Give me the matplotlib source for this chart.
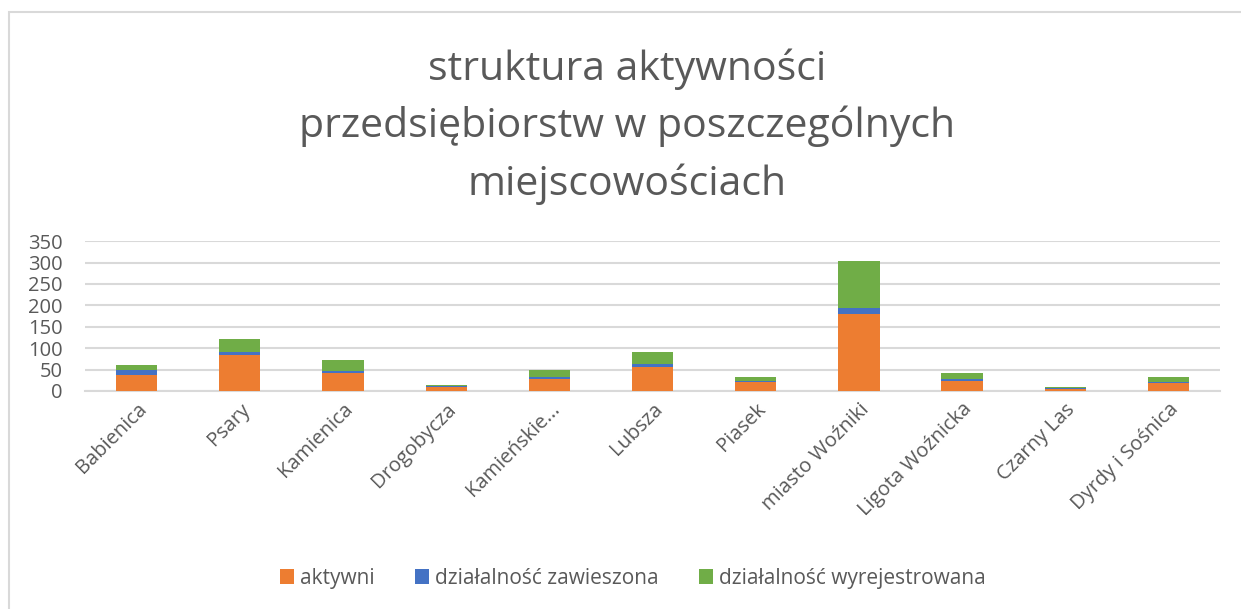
import matplotlib.pyplot as plt
import numpy as np
from matplotlib.patches import Rectangle

plt.rcParams['font.family'] = ['Open Sans', 'DejaVu Sans']

places = ['Babienica', 'Psary', 'Kamienica', 'Drogobycza', 'Kamieńskie...',
          'Lubsza', 'Piasek', 'miasto Woźniki', 'Ligota Woźnicka', 'Czarny Las',
          'Dyrdy i Sośnica']
aktywni = [38, 85, 43, 10, 29, 55, 22, 179, 24, 5, 19]
zawieszona = [10, 7, 3, 1, 4, 7, 2, 15, 5, 1, 3]
wyrejestrowana = [13, 30, 27, 2, 17, 28, 9, 110, 12, 4, 11]

series_names = ['aktywni', 'działalność zawieszona', 'działalność wyrejestrowana']
colors = ['#ed7d31', '#4472c4', '#70ad47']
text_color = '#595959'

fig = plt.figure(figsize=(12.41, 6.09), dpi=100)
ax = fig.add_axes([0.0685, 0.358, 0.9146, 0.246])

x = np.arange(len(places))
bottom = np.zeros(len(places))
for vals, name, c in zip([aktywni, zawieszona, wyrejestrowana], series_names, colors):
    ax.bar(x, vals, width=0.4, bottom=bottom, color=c, label=name, zorder=3)
    bottom += np.array(vals)

ax.set_xlim(-0.5, len(places) - 0.5)
ax.set_ylim(0, 350)
ax.set_yticks(range(0, 351, 50))
ax.grid(axis='y', color='#d9d9d9', linewidth=1.5, zorder=0)
for s in ['top', 'right', 'left']:
    ax.spines[s].set_visible(False)
ax.spines['bottom'].set_color('#d9d9d9')
ax.spines['bottom'].set_linewidth(1.5)
ax.tick_params(axis='both', length=0, labelsize=14.5, labelcolor=text_color)
ax.tick_params(axis='y', pad=16)
ax.tick_params(axis='x', pad=6)
ax.set_xticks(x)
ax.set_xticklabels(places, rotation=45, ha='right', rotation_mode='anchor')

fig.text(0.505, 0.792, 'struktura aktywności\nprzedsiębiorstw w poszczególnych\nmiejscowościach',
         ha='center', va='center', fontsize=29.5, color=text_color, linespacing=1.5)

leg = fig.legend(loc='center', bbox_to_anchor=(0.51, 0.05), ncol=3, frameon=False,
                 fontsize=15, handlelength=0.7, handleheight=0.7, columnspacing=1.9,
                 handletextpad=0.3)
for t in leg.get_texts():
    t.set_color(text_color)

# light frame round the chart area
fig.patches.append(Rectangle((0.007, -0.05), 1.1, 1.03, transform=fig.transFigure,
                             fill=False, edgecolor='#d9d9d9', linewidth=1.5))

fig.savefig('out.png', dpi=100)
